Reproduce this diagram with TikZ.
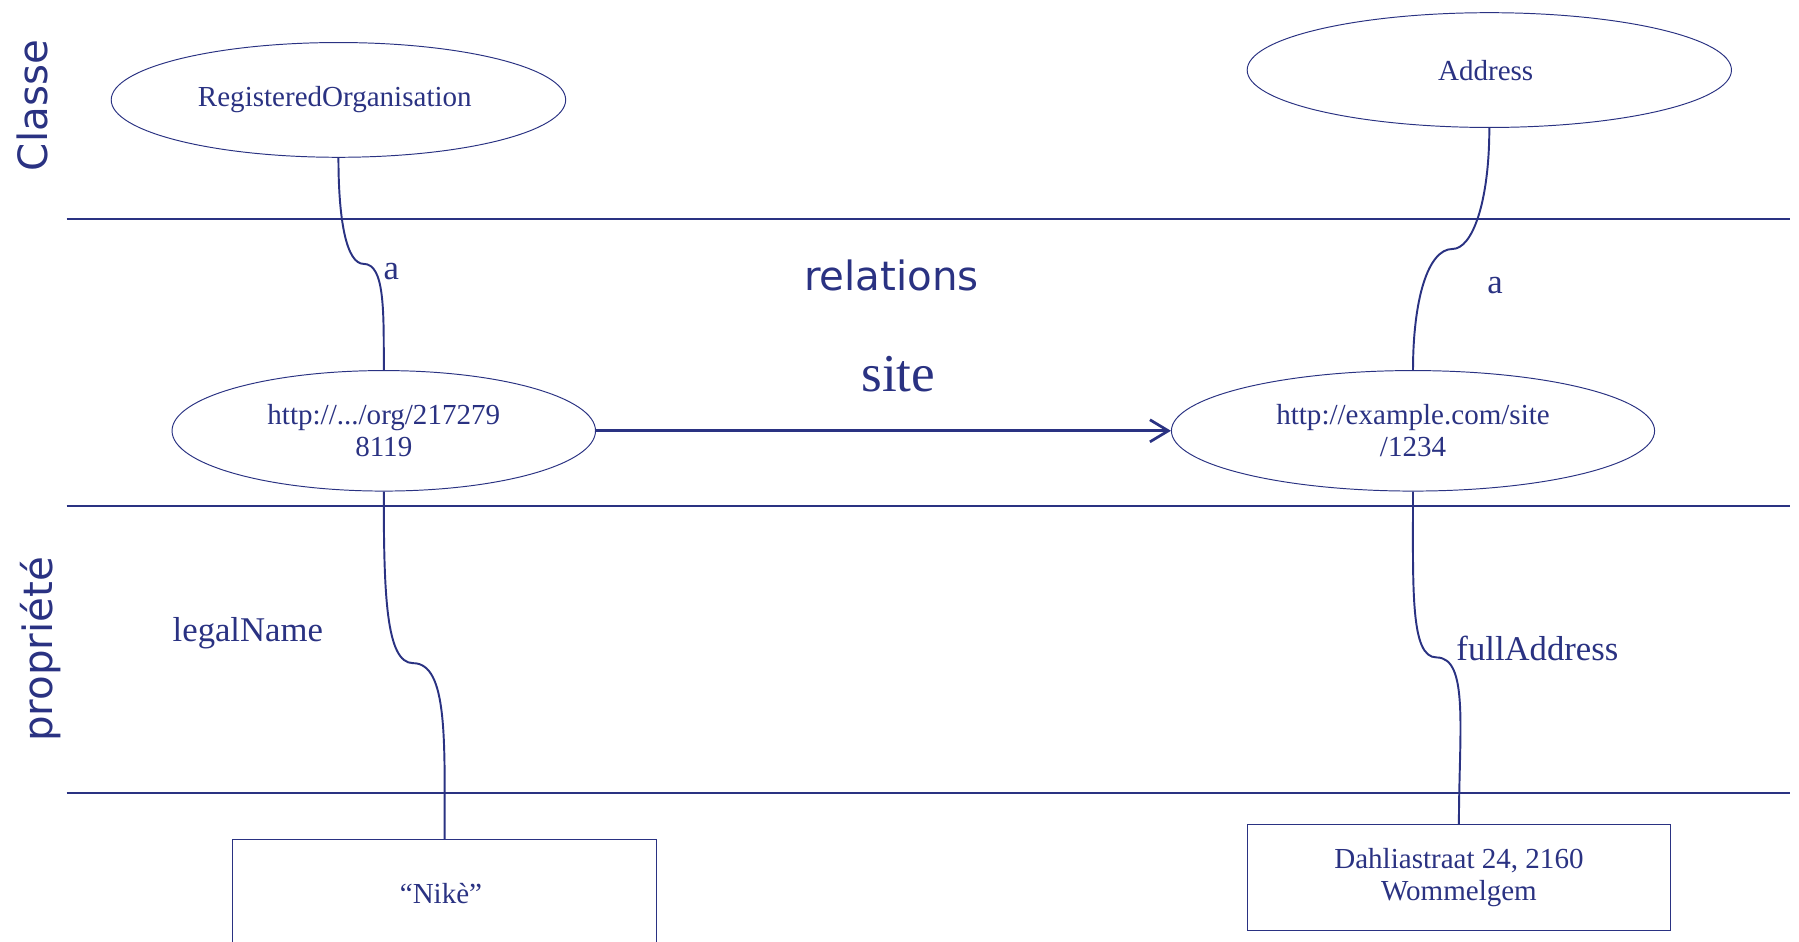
\documentclass[tikz,border=0pt]{standalone}
\usepackage{fontspec}
\setmainfont{Liberation Serif}
\newfontfamily\lanefont{DejaVu Sans}
\usetikzlibrary{
  shapes.geometric,
  positioning,
  arrows.meta}
\definecolor{inkcolor}{RGB}{42,50,130}
\tikzset{
  %% classnode : the class of a resource
  classnode/.style={
    ellipse,
    draw=inkcolor,
    line width=0.6pt,
    text=inkcolor,
    inner sep=0pt,
    minimum width=9.9cm,
    minimum height=2.5cm,
    align=center,
    font=\fontsize{18}{20}\selectfont
  },
  %% resource : a resource (URI)
  resource/.style={
    classnode,
    minimum width=9.225cm,
    minimum height=2.625cm
  },
  %% literal : a literal value
  literal/.style={
    rectangle,
    draw=inkcolor,
    line width=0.6pt,
    text=inkcolor,
    inner sep=0pt,
    minimum width=9.225cm,
    minimum height=2.35cm,
    align=center,
    font=\fontsize{18}{20}\selectfont
  },
  %% link : class or property link
  link/.style={inkcolor, line width=1.2pt},
  %% relation_arrow : relation between two resources
  relation_arrow/.style={-{Straight Barb[length=0.4cm, width=0.48cm]},
    inkcolor, line width=1.7pt},
  %% lane : separator between the lanes
  lane/.style={inkcolor, line width=1.3pt},
  %% edgelabel : name of a link
  edgelabel/.style={text=inkcolor, font=\fontsize{21.5}{24}\selectfont},
  %% lanelabel : name of a lane
  lanelabel/.style={text=inkcolor, font=\lanefont\fontsize{25}{30}\selectfont}
}
\begin{document}
\begin{tikzpicture}
  [x=0.025cm,
  y=-0.025cm]

  \useasboundingbox (0, 0) rectangle (1568, 821);

  %% Lanes
  \draw [lane] (58, 191) -- (1560, 191);
  \draw [lane] (58, 441) -- (1560, 441);
  \draw [lane] (58, 691) -- (1560, 691);

  \node (classe) [lanelabel, rotate=90] at (28, 92) {Classe};
  \node (propriete) [lanelabel, rotate=90] at (35, 566) {propriété};
  \node (relations) [lanelabel] at (777, 240) {relations};

  %% Resources
  \node (org) [resource] at (334.5, 375.5) {%
    http://.../org/217279\\8119
  };

  \node (site) [right=12.525cm of org, resource, minimum width=10.525cm]{%
    http://example.com/site\\/1234
  };

  %% Classes
  \node (regorg) [above=4.625cm of org, xshift=-0.9875cm, classnode]{%
    RegisteredOrganisation
  };

  \node (address) [above=5.275cm of site, xshift=1.6625cm, classnode,
    minimum width=10.55cm]{%
    Address
  };

  %% Literals
  \node (nike) [below=7.575cm of org, xshift=1.325cm, literal]{%
    “Nikè”
  };

  \node (fulladdr) [below=7.25cm of site, xshift=1cm, literal,
    minimum height=2.3cm]{%
    Dahliastraat 24, 2160\\Wommelgem
  };

  %% Connections
  \coordinate (kinkorg) at (317, 230);
  \coordinate (kinksite) at (1266, 217);
  \coordinate (kinkname) at (360, 578);
  \coordinate (kinkaddr) at (1252, 573);

  \draw [link] (regorg.south)
    to [out=-90, in=180, out looseness=1.5, in looseness=0.4] (kinkorg)
    to [out=0, in=90, out looseness=0.5, in looseness=1.4] (org.north);
  \draw [link] (address.south)
    to [out=-90, in=0, out looseness=1.5, in looseness=0.4] (kinksite)
    to [out=180, in=90, out looseness=0.5, in looseness=1.4] (site.north);
  \draw [link] (org.south)
    to [out=-90, in=180, out looseness=1.5, in looseness=0.4] (kinkname)
    to [out=0, in=90, out looseness=0.5, in looseness=1.4] (nike.north);
  \draw [link] (site.south)
    to [out=-90, in=180, out looseness=1.5, in looseness=0.4] (kinkaddr)
    to [out=0, in=90, out looseness=0.5, in looseness=1.4] (fulladdr.north);

  \draw [relation_arrow] (org.east) -- (site.west);

  %% Labels
  \node (sitelabel) [text=inkcolor, font=\fontsize{33}{36}\selectfont]
    at (783, 326) {site};
  \node (aorg) [edgelabel] at (341, 237) {a};
  \node (asite) [edgelabel] at (1303, 249) {a};
  \node (legalname) [edgelabel] at (216, 552) {legalName};
  \node (fulladdress) [edgelabel] at (1340, 565) {fullAddress};

\end{tikzpicture}
\end{document}
